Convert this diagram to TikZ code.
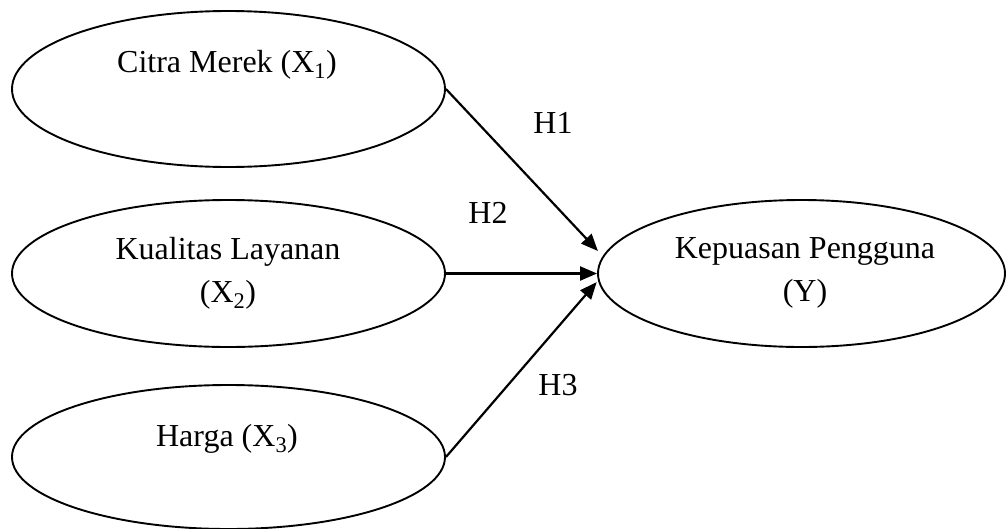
\documentclass[tikz,border=0pt]{standalone}
\usepackage{fontspec}
\setmainfont{Liberation Serif}
\usetikzlibrary{shapes.geometric,arrows.meta}
\begin{document}
\begin{tikzpicture}[x=1pt,y=-1pt,
  construct/.style={draw, ellipse, line width=1.9pt, inner sep=0pt},
  lbl/.style={font=\fontsize{32}{43}\selectfont, align=center, inner sep=0pt},
  link/.style={line width=2.2pt, -{Triangle[length=17pt,width=14pt]}}
]
\useasboundingbox (0,0) rectangle (1007,528);
\fill[white] (0,0) rectangle (1007,528);
% constructs
\node[construct, minimum width=433pt, minimum height=156pt] (e1) at (228.5,89) {};
\node[lbl, anchor=base] (t1) at (227,72) {Citra Merek (X\textsubscript{1})};
\node[construct, minimum width=433pt, minimum height=147pt] (e2) at (228.5,273.5) {};
\node[lbl] (t2) at (228,273) {Kualitas Layanan\\(X\textsubscript{2})};
\node[construct, minimum width=433pt, minimum height=144pt] (e3) at (228.5,457) {};
\node[lbl, anchor=base] (t3) at (227,446) {Harga (X\textsubscript{3})};
\node[construct, minimum width=407pt, minimum height=147pt] (e4) at (801.5,273.5) {};
\node[lbl] (t4) at (805,273) {Kepuasan Pengguna\\(Y)};
% paths
\draw[link, shorten >=7pt] (e1.east) -- (e4.175.7);
\draw[link] (e2.east) -- (e4.west);
\draw[link, shorten >=2pt] (e3.east) -- (e4.182);
% hypothesis labels
\node[lbl] (h1) at (553,123) {H1};
\node[lbl] (h2) at (488,213) {H2};
\node[lbl] (h3) at (558,385) {H3};
\end{tikzpicture}
\end{document}
